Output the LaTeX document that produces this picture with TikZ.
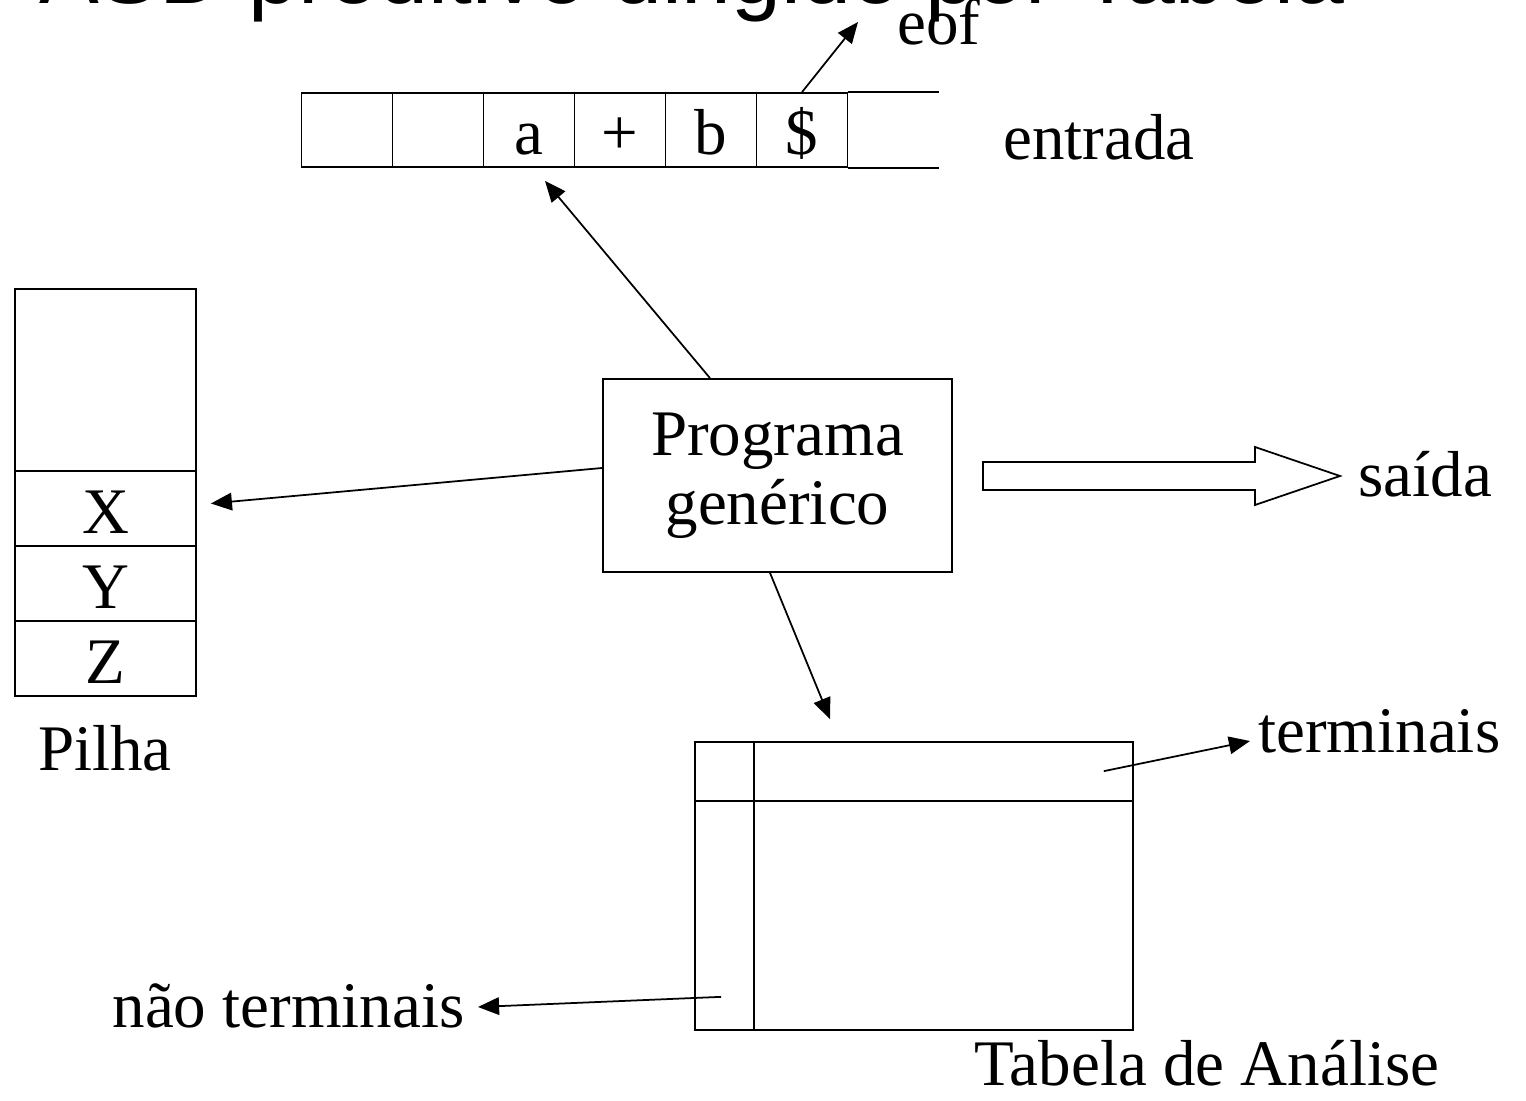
\documentclass[tikz,border=0pt]{standalone}
\usepackage{fontspec}
\setmainfont{Liberation Serif}
\newfontfamily\titlefont{Liberation Sans}
\usetikzlibrary{arrows.meta}

\begin{document}
\begin{tikzpicture}[x=0.02cm,y=-0.02cm,
  txt/.style={inner sep=0pt,font=\fontsize{37}{39}\selectfont},
  cell/.style={draw,line width=1pt,inner sep=0pt,text height=1.2cm,text depth=0.2cm,font=\fontsize{37}{39}\selectfont},
  tape/.style={cell,minimum width=1.82cm,minimum height=1.48cm},
  pile/.style={cell,minimum width=3.62cm,minimum height=1.5cm},
  arr/.style={-{Triangle[length=12pt,width=10pt]},line width=1pt}]
\useasboundingbox (0,0) rectangle (1526,1101);
\node[anchor=base east,inner sep=0pt,font=\titlefont\fontsize{51}{55}\selectfont] (title) at (1345,4) {ASD preditivo dirigido por Tabela};

\node[tape] (c1) at (347,130) {};
\node[tape] (c2) at (438,130) {};
\node[tape] (c3) at (529,130) {a};
\node[tape] (c4) at (620,130) {+};
\node[tape] (c5) at (711,130) {b};
\node[tape] (c6) at (802,130) {\$};
\draw[line width=1pt] (c6.north east) -- ([xshift=1.82cm]c6.north east);
\draw[line width=1pt] (c6.south east) -- ([xshift=1.82cm]c6.south east);
\node[txt,anchor=base west] (entrada) at (1003,160) {entrada};
\node[txt,anchor=base west] (eof) at (897,45) {eof};

\node[pile,minimum height=3.64cm] (stop) at (105.5,380) {};
\node[pile] (sx) at (105.5,508.5) {X};
\node[pile] (sy) at (105.5,583.5) {Y};
\node[pile] (sz) at (105.5,658.5) {Z};
\node[txt,anchor=base] (pilha) at (105,770) {Pilha};

\node[txt,draw,line width=1pt,minimum width=6.98cm,minimum height=3.86cm,align=center] (prog) at (777.5,475.5) {Programa\\genérico};

\draw[line width=1pt] (983,462) -- (1255,462) -- (1255,447) -- (1340,476) -- (1255,505) -- (1255,490) -- (983,490) -- cycle;
\node[txt,anchor=base west] (saida) at (1358,497) {saída};

\node[draw,line width=1pt,minimum width=8.76cm,minimum height=5.76cm] (tab) at (914,886) {};
\draw[line width=1pt] ([yshift=-1.2cm]tab.north west) -- ([yshift=-1.2cm]tab.north east);
\draw[line width=1pt] ([xshift=1.2cm]tab.north west) -- ([xshift=1.2cm]tab.south west);
\node[txt,anchor=base west] (term) at (1258,752) {terminais};
\node[txt,anchor=base east] (nterm) at (465,1027) {não terminais};
\node[txt,anchor=base] (tabname) at (1207,1085) {Tabela de Análise};

\draw[arr] (c6.north) -- ([xshift=-0.78cm,yshift=0.46cm]eof.base west);
\draw[arr] ([xshift=-1.35cm]prog.north) -- ([xshift=0.32cm,yshift=-0.26cm]c3.south);
\draw[arr] ([yshift=0.15cm]prog.west) -- ([xshift=0.28cm,yshift=0.1cm]sx.east);
\draw[arr] ([xshift=-0.15cm]prog.south) -- ([xshift=-1.68cm,yshift=0.44cm]tab.north);
\draw[arr] ([xshift=-0.6cm,yshift=-0.6cm]tab.north east) -- ([xshift=-0.16cm,yshift=0.22cm]term.base west);
\draw[arr] ([xshift=0.54cm,yshift=0.68cm]tab.south west) -- ([xshift=0.26cm,yshift=0.4cm]nterm.base east);
\end{tikzpicture}
\end{document}
